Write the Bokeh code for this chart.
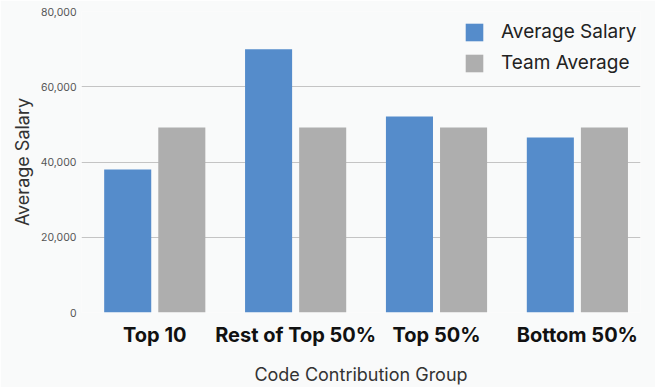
from bokeh.plotting import figure
from bokeh.models import ColumnDataSource, FixedTicker, NumeralTickFormatter, Legend, LegendItem, Range1d
from bokeh.embed import file_html
from bokeh.resources import INLINE

# Salary by code contribution group
categories = ["Top 10", "Rest of Top 50%", "Top 50%", "Bottom 50%"]
average_salary = [38000, 70000, 52100, 46500]
team_average = [49200, 49200, 49200, 49200]
y_ticks = [0, 20000, 40000, 60000, 80000]

BLUE = "#558ccb"
GRAY = "#aeaeae"
BG = "#f9fafa"
FONT = "Inter"

idx = list(range(len(categories)))
src = ColumnDataSource(dict(
    x_blue=[i - 0.192 for i in idx],
    x_gray=[i + 0.192 for i in idx],
    salary=average_salary,
    team=team_average,
))

p = figure(width=655, height=387, output_backend="svg", toolbar_location=None,
           x_range=Range1d(-0.52, 3.448), y_range=Range1d(0, 80000),
           min_border_left=81, min_border_right=15, min_border_top=11, min_border_bottom=75)
p.background_fill_color = BG
p.border_fill_color = BG
p.outline_line_color = None

r1 = p.vbar(x="x_blue", top="salary", width=0.334, source=src, fill_color=BLUE, line_color=None)
r2 = p.vbar(x="x_gray", top="team", width=0.334, source=src, fill_color=GRAY, line_color=None)

# x axis: group names
p.xaxis.ticker = FixedTicker(ticks=idx)
p.xaxis.major_label_overrides = {i: c for i, c in zip(idx, categories)}
p.xaxis.major_label_text_font = FONT
p.xaxis.major_label_text_font_style = "bold"
p.xaxis.major_label_text_font_size = "20px"
p.xaxis.major_label_text_color = "#111111"
p.xaxis.major_label_standoff = 10
p.xaxis.major_tick_out = 0
p.xaxis.major_tick_in = 0
p.xaxis.axis_line_color = None
p.xaxis.major_tick_line_color = None
p.xaxis.minor_tick_line_color = None
p.xaxis.axis_label = "Code Contribution Group"
p.xaxis.axis_label_text_font = FONT
p.xaxis.axis_label_text_font_style = "normal"
p.xaxis.axis_label_text_font_size = "18px"
p.xaxis.axis_label_text_color = "#333333"
p.xaxis.axis_label_standoff = 14
p.xgrid.grid_line_color = None

# y axis: salary
p.yaxis.ticker = FixedTicker(ticks=y_ticks)
p.yaxis.formatter = NumeralTickFormatter(format="0,0")
p.yaxis.major_label_text_font = FONT
p.yaxis.major_label_text_font_size = "10.5px"
p.yaxis.major_label_text_color = "#555555"
p.yaxis.major_label_standoff = 5
p.yaxis.major_tick_out = 0
p.yaxis.major_tick_in = 0
p.yaxis.axis_line_color = None
p.yaxis.major_tick_line_color = None
p.yaxis.minor_tick_line_color = None
p.yaxis.axis_label = "Average Salary"
p.yaxis.axis_label_text_font = FONT
p.yaxis.axis_label_text_font_style = "normal"
p.yaxis.axis_label_text_font_size = "18px"
p.yaxis.axis_label_text_color = "#333333"
p.yaxis.axis_label_standoff = 5
p.ygrid.grid_line_color = "#c4c4c4"
p.ygrid.grid_line_width = 1

legend = Legend(items=[LegendItem(label="Average Salary", renderers=[r1]),
                       LegendItem(label="Team Average", renderers=[r2])],
                location=(382, 238), padding=0, margin=0, spacing=8,
                glyph_width=22, glyph_height=22, label_standoff=16,
                label_text_font=FONT, label_text_font_size="19px", label_text_color="#222222",
                border_line_color=None, background_fill_alpha=0)
p.add_layout(legend)

open("out.html", "w").write(file_html(p, INLINE))
